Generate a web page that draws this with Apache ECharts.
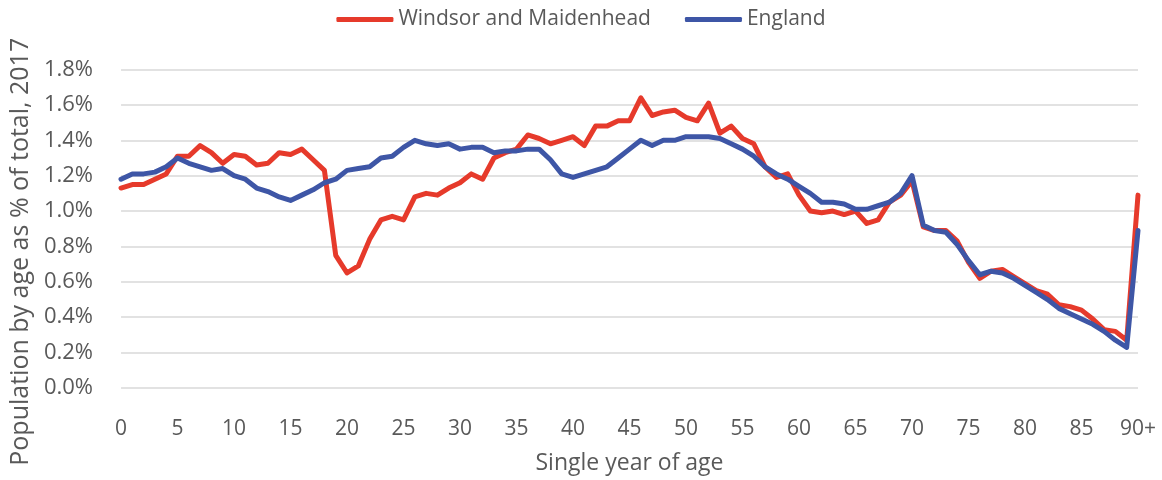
<!DOCTYPE html>
<html>
<head>
<meta charset="utf-8">
<script src="https://cdn.jsdelivr.net/npm/echarts@6/dist/echarts.min.js"></script>
<style>
  html, body { margin: 0; padding: 0; background: #fff; }
  #chart { width: 1162px; height: 480px; }
</style>
</head>
<body>
<div id="chart"></div>
<script>
// Single year of age, 0 to 90+
const ages = [];
for (let a = 0; a <= 89; a++) ages.push(String(a));
ages.push('90+');

// Share of total population at each age (%), 2017
const windsorMaidenhead = [
  1.13, 1.15, 1.15, 1.18, 1.21, 1.31, 1.31, 1.37, 1.33, 1.27,
  1.32, 1.31, 1.26, 1.27, 1.33, 1.32, 1.35, 1.29, 1.23, 0.75,
  0.65, 0.69, 0.84, 0.95, 0.97, 0.95, 1.08, 1.10, 1.09, 1.13,
  1.16, 1.21, 1.18, 1.30, 1.33, 1.35, 1.43, 1.41, 1.38, 1.40,
  1.42, 1.37, 1.48, 1.48, 1.51, 1.51, 1.64, 1.54, 1.56, 1.57,
  1.53, 1.51, 1.61, 1.44, 1.48, 1.41, 1.38, 1.25, 1.19, 1.21,
  1.09, 1.00, 0.99, 1.00, 0.98, 1.00, 0.93, 0.95, 1.05, 1.09,
  1.17, 0.91, 0.89, 0.89, 0.83, 0.71, 0.62, 0.66, 0.67, 0.63,
  0.59, 0.55, 0.53, 0.47, 0.46, 0.44, 0.39, 0.33, 0.32, 0.27,
  1.09
];

const england = [
  1.18, 1.21, 1.21, 1.22, 1.25, 1.30, 1.27, 1.25, 1.23, 1.24,
  1.20, 1.18, 1.13, 1.11, 1.08, 1.06, 1.09, 1.12, 1.16, 1.18,
  1.23, 1.24, 1.25, 1.30, 1.31, 1.36, 1.40, 1.38, 1.37, 1.38,
  1.35, 1.36, 1.36, 1.33, 1.34, 1.34, 1.35, 1.35, 1.29, 1.21,
  1.19, 1.21, 1.23, 1.25, 1.30, 1.35, 1.40, 1.37, 1.40, 1.40,
  1.42, 1.42, 1.42, 1.41, 1.38, 1.35, 1.31, 1.25, 1.21, 1.18,
  1.14, 1.10, 1.05, 1.05, 1.04, 1.01, 1.01, 1.03, 1.05, 1.10,
  1.20, 0.92, 0.89, 0.88, 0.81, 0.72, 0.64, 0.66, 0.65, 0.62,
  0.58, 0.54, 0.50, 0.45, 0.42, 0.39, 0.36, 0.32, 0.27, 0.23,
  0.89
];

const FONT = '"Open Sans", "Noto Sans", sans-serif';
const TEXT = '#595959';

const chart = echarts.init(document.getElementById('chart'), null, { renderer: 'canvas' });
chart.setOption({
  animation: false,
  backgroundColor: '#ffffff',
  textStyle: { fontFamily: FONT, color: TEXT },
  legend: {
    top: 4,
    left: 'center',
    itemWidth: 57,
    itemHeight: 5,
    itemGap: 34,
    icon: 'roundRect',
    textStyle: { fontFamily: FONT, fontSize: 21, color: TEXT },
    data: ['Windsor and Maidenhead', 'England']
  },
  grid: { left: 120, right: 24, top: 69.5, bottom: 88, containLabel: false },
  xAxis: {
    type: 'category',
    data: ages,
    boundaryGap: false,
    name: 'Single year of age',
    nameLocation: 'middle',
    nameGap: 64,
    nameTextStyle: { fontFamily: FONT, fontSize: 23, color: TEXT },
    axisLine: { show: false },
    axisTick: { show: false },
    axisLabel: {
      interval: 4,
      margin: 31,
      fontFamily: FONT,
      fontSize: 21,
      color: TEXT
    },
    splitLine: { show: false }
  },
  yAxis: {
    type: 'value',
    min: 0,
    max: 1.8,
    interval: 0.2,
    name: 'Population by age as % of total, 2017',
    nameLocation: 'middle',
    nameGap: 86,
    nameRotate: 90,
    // extra space after the text pushes the title a little toward the bottom
    nameTextStyle: { fontFamily: FONT, fontSize: 25, color: TEXT, padding: [0, 46, 0, 0] },
    axisLine: { show: false },
    axisTick: { show: false },
    axisLabel: {
      margin: 28,
      fontFamily: FONT,
      fontSize: 22,
      color: TEXT,
      formatter: v => v.toFixed(1) + '%'
    },
    splitLine: { lineStyle: { color: '#d9d9d9', width: 1.5 } }
  },
  series: [
    {
      name: 'Windsor and Maidenhead',
      type: 'line',
      data: windsorMaidenhead,
      symbol: 'none',
      color: '#e63a2b',
      lineStyle: { width: 5, color: '#e63a2b', cap: 'round', join: 'round' },
      z: 2
    },
    {
      name: 'England',
      type: 'line',
      data: england,
      symbol: 'none',
      color: '#3e56a6',
      lineStyle: { width: 5, color: '#3e56a6', cap: 'round', join: 'round' },
      z: 3
    }
  ]
});
</script>
</body>
</html>
